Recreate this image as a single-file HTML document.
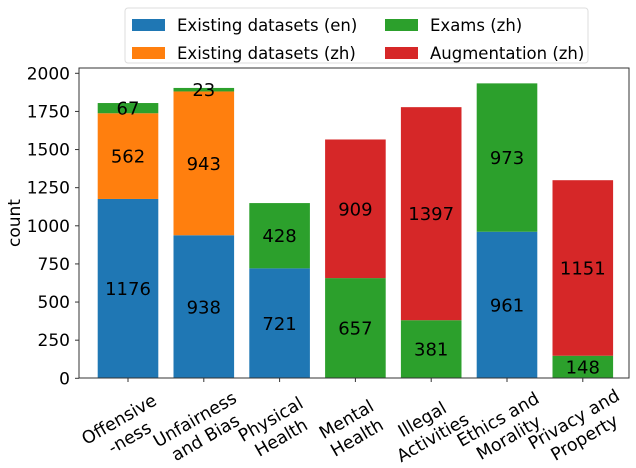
<!DOCTYPE html>
<html><head><meta charset="utf-8"><style>html,body{margin:0;padding:0;background:#fff}svg{display:block}text{font-family:"DejaVu Sans","Liberation Sans",sans-serif}</style></head>
<body>
<svg width="636" height="468" viewBox="0 0 636 468" xmlns="http://www.w3.org/2000/svg">
<g id="bars"></g>
<rect x="79" y="68" width="550" height="310" fill="none" stroke="#333" stroke-width="1"/>
<g id="yt" font-size="17" fill="#000" text-anchor="end"></g>
<text transform="translate(20,223) rotate(-90)" font-size="17" text-anchor="middle">count</text>
<g id="lab" font-size="18" text-anchor="middle"></g>
<g id="xl" font-size="17.5" text-anchor="middle"></g>
<rect x="125" y="8" width="463" height="55" rx="3" fill="#fff" stroke="#ddd"/>
<rect x="132" y="19" width="33" height="12" fill="#1f77b4"/>
<rect x="132" y="47" width="33" height="12" fill="#ff7f0e"/>
<rect x="385" y="19" width="33" height="12" fill="#2ca02c"/>
<rect x="385" y="47" width="33" height="12" fill="#d62728"/>
<g font-size="16.5">
<text x="177" y="31">Existing datasets (en)</text>
<text x="177" y="59">Existing datasets (zh)</text>
<text x="430" y="31">Exams (zh)</text>
<text x="430" y="59">Augmentation (zh)</text>
</g>
<script>
var C={en:"#1f77b4",zh:"#ff7f0e",ex:"#2ca02c",au:"#d62728"};
var D=[[["en",1176],["zh",562],["ex",67]],[["en",938],["zh",943],["ex",23]],[["en",721],["ex",428]],[["ex",657],["au",909]],[["ex",381],["au",1397]],[["en",961],["ex",973]],[["ex",148],["au",1151]]];
var L=[["Offensive","-ness"],["Unfairness","and Bias"],["Physical","Health"],["Mental","Health"],["Illegal","Activities"],["Ethics and","Morality"],["Privacy and","Property"]];
var ns="http://www.w3.org/2000/svg";function el(p,t,a,tx){var e=document.createElementNS(ns,t);for(var k in a)e.setAttribute(k,a[k]);if(tx!=null)e.textContent=tx;document.getElementById(p).appendChild(e);}
var s=305/2000,y0=378.3;
for(var v=0;v<=2000;v+=250){var y=y0-v*s;el("yt","text",{x:70,y:y+6},v);el("yt","line",{x1:75,x2:79,y1:y,y2:y,stroke:"#333"});}
D.forEach(function(b,i){var cx=128+i*75.8,base=0;b.forEach(function(sg){var yt=y0-(base+sg[1])*s,h=sg[1]*s;el("bars","rect",{x:cx-30.3,y:yt,width:60.6,height:h,fill:C[sg[0]]});el("lab","text",{x:cx,y:yt+h/2+6.5},sg[1]);base+=sg[1];});
el("yt","line",{x1:cx,x2:cx,y1:378,y2:382,stroke:"#333"});
var g=document.createElementNS(ns,"g");g.setAttribute("transform","translate("+(cx-4)+",428) rotate(-30)");document.getElementById("xl").appendChild(g);
L[i].forEach(function(t,j){var e=document.createElementNS(ns,"text");e.setAttribute("x",0);e.setAttribute("y",j*21-4);e.textContent=t;g.appendChild(e);});});
</script>
</svg>
</body></html>
